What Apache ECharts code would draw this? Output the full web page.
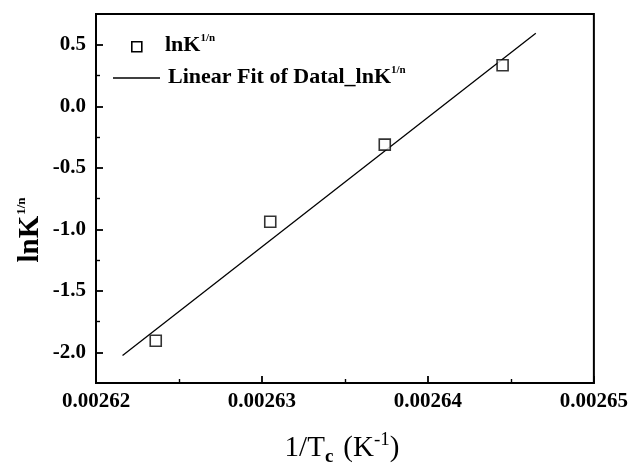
<!DOCTYPE html>
<html><head><meta charset="utf-8">
<script src="https://cdn.jsdelivr.net/npm/echarts@6/dist/echarts.min.js"></script>
<style>html,body{margin:0;padding:0;background:#fff}#c{width:631px;height:466px}</style>
</head><body><div id="c"></div>
<script>
// data
var xData = [0.0026236, 0.0026305, 0.0026374, 0.0026445];
var yData = [-1.906, -0.939, -0.312, 0.333];
var fitX = [0.0026216, 0.0026465];
var fitY = [-2.027, 0.594];
var xTicks = [0.00262, 0.00263, 0.00264, 0.00265];
var yTicks = [-2.0, -1.5, -1.0, -0.5, 0.0, 0.5];
var yMinorTicks = [-1.75, -1.25, -0.75, -0.25, 0.25];

var FONT = '"Liberation Serif", "DejaVu Serif", serif';
var chart = echarts.init(document.getElementById('c'));
var pts = xData.map(function (x, i) { return [x, yData[i]]; });
var fit = fitX.map(function (x, i) { return [x, fitY[i]]; });
function tickAxis(vals, len, w) {
  return {
    type: 'value', min: -2.25, max: 0.75, interval: 0.25, position: 'left',
    axisLine: { show: false },
    axisTick: { show: true, inside: true, length: len, customValues: vals, lineStyle: { color: '#000', width: w } },
    axisLabel: { show: false, customValues: vals }, splitLine: { show: false }
  };
}
chart.setOption({
  animation: false,
  backgroundColor: '#fff',
  grid: { left: 96, right: 36, top: 14, bottom: 83, show: true, borderColor: '#000', borderWidth: 2, backgroundColor: 'transparent' },
  xAxis: {
    type: 'value', min: 0.00262, max: 0.00265, interval: 0.00001,
    axisLine: { onZero: false, lineStyle: { color: '#000', width: 2 } },
    axisTick: { inside: true, length: 7, lineStyle: { color: '#000', width: 1.8 } },
    minorTick: { show: true, splitNumber: 2, length: 4, lineStyle: { color: '#000', width: 1.4 } },
    splitLine: { show: false },
    axisLabel: { color: '#000', fontFamily: FONT, fontWeight: 'bold', fontSize: 21, margin: 8,
      formatter: function (v) { return v.toFixed(5); } }
  },
  yAxis: [{
    type: 'value', min: -2.25, max: 0.75, interval: 0.25,
    axisLine: { onZero: false, lineStyle: { color: '#000', width: 2 } },
    axisTick: { show: false },
    splitLine: { show: false },
    axisLabel: { color: '#000', fontFamily: FONT, fontWeight: 'bold', fontSize: 21, margin: 10,
      customValues: yTicks, formatter: function (v) { return v.toFixed(1); } }
  }, tickAxis(yTicks, 7, 1.8), tickAxis(yMinorTicks, 4, 1.4)],
  series: [
    { type: 'line', data: fit, symbol: 'none', lineStyle: { color: '#000', width: 1.3 }, z: 2 },
    { type: 'scatter', data: pts, symbol: 'rect', symbolSize: 11,
      itemStyle: { color: '#fff', borderColor: '#000', borderWidth: 1.6 }, z: 3 }
  ],
  graphic: [
    { type: 'rect', left: 131, top: 41, shape: { width: 10, height: 10 }, style: { fill: '#fff', stroke: '#000', lineWidth: 1.6 } },
    { type: 'text', x: 165, y: 58, style: { verticalAlign: 'bottom', rich: {
        a: { fontFamily: FONT, fontWeight: 'bold', fontSize: 22, fill: '#000' },
        s: { fontFamily: FONT, fontWeight: 'bold', fontSize: 11, fill: '#000', padding: [0,0,14,0] } },
      text: '{a|lnK}{s|1/n}' } },
    { type: 'line', shape: { x1: 113, y1: 78, x2: 160, y2: 78 }, style: { stroke: '#000', lineWidth: 1.6 } },
    { type: 'text', x: 168, y: 90, style: { verticalAlign: 'bottom', rich: {
        a: { fontFamily: FONT, fontWeight: 'bold', fontSize: 22, fill: '#000' },
        s: { fontFamily: FONT, fontWeight: 'bold', fontSize: 11, fill: '#000', padding: [0,0,14,0] } },
      text: '{a|Linear Fit of Datal_lnK}{s|1/n}' } },
    { type: 'text', x: 31, y: 230, rotation: Math.PI / 2, style: { align: 'center', verticalAlign: 'middle', rich: {
        a: { fontFamily: FONT, fontWeight: 'bold', fontSize: 29, fill: '#000' },
        s: { fontFamily: FONT, fontWeight: 'bold', fontSize: 13, fill: '#000', padding: [0,0,18,1] } },
      text: '{a|lnK}{s|1/n}' } },
    { type: 'text', x: 342, y: 448, style: { align: 'center', verticalAlign: 'middle', rich: {
        a: { fontFamily: FONT, fontSize: 29, fill: '#000' },
        b: { fontFamily: FONT, fontWeight: 'bold', fontSize: 19, fill: '#000', padding: [18,10,0,0] },
        s: { fontFamily: FONT, fontSize: 19, fill: '#000', padding: [0,0,16,0] } },
      text: '{a|1/T}{b|c}{a|(K}{s|-1}{a|)}' } }
  ]
});
</script></body></html>
